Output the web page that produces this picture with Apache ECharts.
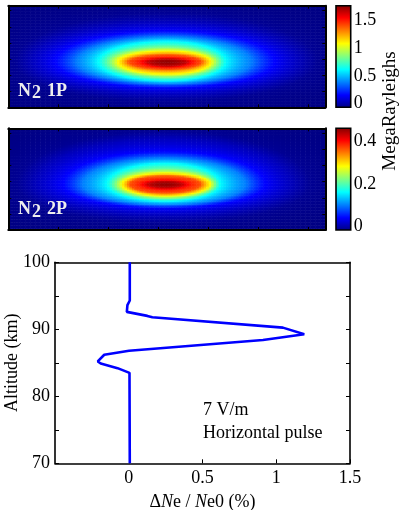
<!DOCTYPE html>
<html>
<head>
<meta charset="utf-8">
<script src="https://cdn.jsdelivr.net/npm/echarts@6/dist/echarts.min.js"></script>
<style>
html,body{margin:0;padding:0;background:#fff;}
#chart{width:403px;height:510px;}
</style>
</head>
<body>
<div id="chart"></div>
<script>
// ---------- DATA ----------
// Emission maps are described by their colour contours: for each contour level (MegaRayleighs)
// the half-extent of the contour to the right / left / up / down of the brightest point,
// in units of the 64 x 34 map grid. Centre = brightest point in map-grid units.
const n2_1p_centre = [32.1, 15.3];
const n2_1p_levels = [1.74, 1.65, 1.42, 1.11, 0.66, 0.44, 0.22, 0.106, 0.035];
const n2_1p_right  = [0, 4.0, 6.9, 8.9, 11.9, 17.0, 21.8, 26.5, 30.3];
const n2_1p_left   = [0, 4.0, 7.7, 9.9, 13.9, 18.2, 22.6, 27.3, 30.7];
const n2_1p_up     = [0, 1.0, 2.3, 3.7, 6.9, 8.4, 10.4, 13.4, 16.4];
const n2_1p_down   = [0, 1.5, 2.5, 4.2, 6.4, 7.4, 8.7, 11.0, 13.4];

const n2_2p_centre = [31.7, 15.4];
const n2_2p_levels = [0.455, 0.43, 0.37, 0.29, 0.174, 0.116, 0.058, 0.028, 0.009];
const n2_2p_right  = [0, 3.6, 7.1, 9.1, 11.1, 16.2, 20.2, 25.3, 29.3];
const n2_2p_left   = [0, 3.6, 7.1, 8.7, 11.7, 16.6, 20.6, 25.9, 29.9];
const n2_2p_up     = [0, 1.0, 2.7, 3.7, 7.0, 8.7, 11.0, 15.1, 17.7];
const n2_2p_down   = [0, 1.3, 3.0, 4.0, 5.7, 6.9, 8.0, 10.4, 13.0];

const map_cols = 64, map_rows = 34;

// colour bar ranges and ticks
const cb1_max = 1.772;
const cb1_ticks = [0, 0.5, 1, 1.5];
const cb2_max = 0.463;
const cb2_ticks = [0, 0.2, 0.4];

// Electron density change profile
const altitude_km = [70, 83.5, 84.2, 84.9, 85.2, 86.2, 86.8, 88.4, 89.25, 90.25, 91.8, 92.0, 92.6, 93.6, 94.3, 100];
const dNe_percent = [0.007, 0.005, -0.076, -0.19, -0.21, -0.166, 0.002, 0.91, 1.19, 1.045, 0.16, 0.126, -0.013, -0.009, 0.007, 0.007];
const xTickLabels = ['0', '0.5', '1', '1.5'];
const yTickLabels = ['70', '80', '90', '100'];

// ---------- LAYOUT ----------
const SERIF = '"Liberation Serif","Times New Roman",serif';
const HM = { left: 8.3, width: 317 };
const HM1 = { top: 5.7, height: 101.6 };
const HM2 = { top: 128.3, height: 101.7 };
const CB = { left: 336, width: 14.7 };
const LC = { left: 55, top: 262.3, width: 295, height: 201 };
const SUB = 2; // render sub-cells per map-grid cell

const jet = ['#000080','#0000ff','#0080ff','#00ffff','#80ff80','#ffff00','#ff8000','#ff0000','#800000'];

// Build the map table from the contour description (value between neighbouring contours).
function buildMap(c, L, R, Lf, U, D) {
  const out = [];
  const nx = map_cols * SUB, ny = map_rows * SUB, n = L.length;
  for (let j = 0; j < ny; j++) {
    for (let i = 0; i < nx; i++) {
      const x = (i + 0.5) / SUB, y = (j + 0.5) / SUB;
      const dx = x - c[0], dy = y - c[1];
      const A = dx >= 0 ? R : Lf, B = dy >= 0 ? U : D;
      const r = k => Math.sqrt((dx / A[k]) ** 2 + (dy / B[k]) ** 2);
      let v;
      const r1 = r(1);
      if (r1 <= 1) {
        v = L[0] - (L[0] - L[1]) * r1 * r1;
      } else {
        v = null;
        let rp = r1;
        for (let k = 2; k < n; k++) {
          const rk = r(k);
          if (rk <= 1) { const f = (rp - 1) / (rp - rk); v = L[k - 1] + f * (L[k] - L[k - 1]); break; }
          rp = rk;
        }
        if (v === null) v = L[n - 1] / Math.pow(rp, 4);
      }
      out.push([i, j, +v.toFixed(4)]);
    }
  }
  return out;
}
const idx = n => Array.from({length: n}, (_, k) => String(k));

function frameAxis(gridIndex, position, max, interval) {
  return {
    type: 'value', gridIndex, position, min: 0, max, interval, z: 10,
    axisLine: { show: true, onZero: false, lineStyle: { color: '#000', width: 2 } },
    axisTick: { show: true, inside: true, length: 3, lineStyle: { color: '#000', width: 1 } },
    axisLabel: { show: false }, splitLine: { show: false }
  };
}

const chart = echarts.init(document.getElementById('chart'), null, { renderer: 'canvas' });

const gb = { outerBoundsMode: 'none', containLabel: false };
const grids = [
  Object.assign({ left: HM.left, top: HM1.top, width: HM.width, height: HM1.height }, gb),      // 0 heat 1P
  Object.assign({ left: HM.left, top: HM1.top, width: HM.width, height: HM1.height }, gb),      // 1 frame 1P
  Object.assign({ left: HM.left, top: HM2.top, width: HM.width, height: HM2.height }, gb),      // 2 heat 2P
  Object.assign({ left: HM.left, top: HM2.top, width: HM.width, height: HM2.height }, gb),      // 3 frame 2P
  Object.assign({ left: CB.left, top: HM1.top, width: CB.width, height: 103.5 - HM1.top }, gb), // 4 colorbar 1 labels
  Object.assign({ left: CB.left, top: HM2.top, width: CB.width, height: 226 - HM2.top }, gb),   // 5 colorbar 2 labels
  Object.assign({ left: LC.left, top: LC.top, width: LC.width, height: LC.height }, gb)         // 6 line chart
];

const labelFont = { fontFamily: SERIF, fontSize: 18, color: '#000' };

const xAxes = [
  { type: 'category', gridIndex: 0, data: idx(map_cols * SUB), show: false },
  frameAxis(1, 'bottom', 6.34, 1),
  frameAxis(1, 'top', 6.34, 1),
  { type: 'category', gridIndex: 2, data: idx(map_cols * SUB), show: false },
  frameAxis(3, 'bottom', 6.34, 1),
  frameAxis(3, 'top', 6.34, 1),
  { type: 'value', gridIndex: 4, show: false, min: 0, max: 1 },
  { type: 'value', gridIndex: 5, show: false, min: 0, max: 1 },
  { type: 'value', gridIndex: 6, position: 'bottom', min: -0.5, max: 1.5, interval: 0.5,
    axisLine: { show: true, onZero: false, lineStyle: { color: '#000', width: 1.6 } },
    axisTick: { show: true, inside: true, length: 4, lineStyle: { color: '#000', width: 1 } },
    axisLabel: Object.assign({ margin: 6, showMinLabel: false,
      formatter: v => { const s = String(+v.toFixed(2)); return xTickLabels.includes(s) ? s : ''; } }, labelFont),
    splitLine: { show: false },
    name: '{d|Δ}{i|N}{d|e / }{i|N}{d|e0 (%)}', nameLocation: 'middle', nameGap: 30, nameMoveOverlap: false,
    nameTextStyle: { rich: { d: { fontFamily: SERIF, fontSize: 18, color: '#000' },
                             i: { fontFamily: SERIF, fontSize: 18, fontStyle: 'italic', color: '#000' } } } },
  { type: 'value', gridIndex: 6, position: 'top', min: -0.5, max: 1.5,
    axisLine: { show: true, onZero: false, lineStyle: { color: '#000', width: 1.6 } },
    axisTick: { show: false }, axisLabel: { show: false }, splitLine: { show: false } }
];

const yAxes = [
  { type: 'category', gridIndex: 0, data: idx(map_rows * SUB), show: false },
  frameAxis(1, 'left', 6.31, 1),
  frameAxis(1, 'right', 6.31, 1),
  { type: 'category', gridIndex: 2, data: idx(map_rows * SUB), show: false },
  frameAxis(3, 'left', 6.31, 1),
  frameAxis(3, 'right', 6.31, 1),
  { type: 'value', gridIndex: 4, position: 'right', min: 0, max: cb1_max, interval: 0.5,
    axisLine: { show: false }, axisTick: { show: false }, splitLine: { show: false },
    axisLabel: Object.assign({ margin: 3, showMaxLabel: false,
      formatter: v => cb1_ticks.includes(+v.toFixed(2)) ? String(+v.toFixed(2)) : '' }, labelFont) },
  { type: 'value', gridIndex: 5, position: 'right', min: 0, max: cb2_max, interval: 0.2,
    axisLine: { show: false }, axisTick: { show: false }, splitLine: { show: false },
    axisLabel: Object.assign({ margin: 3, showMaxLabel: false,
      formatter: v => cb2_ticks.includes(+v.toFixed(2)) ? String(+v.toFixed(2)) : '' }, labelFont) },
  { type: 'value', gridIndex: 6, position: 'left', min: 70, max: 100, interval: 5,
    axisLine: { show: true, onZero: false, lineStyle: { color: '#000', width: 1.6 } },
    axisTick: { show: true, inside: true, length: 4, lineStyle: { color: '#000', width: 1 } },
    axisLabel: Object.assign({ margin: 5,
      formatter: v => yTickLabels.includes(String(v)) ? String(v) : '' }, labelFont),
    splitLine: { show: false },
    name: 'Altitude (km)', nameLocation: 'middle', nameGap: 34, nameRotate: 90, nameMoveOverlap: false,
    nameTextStyle: { fontFamily: SERIF, fontSize: 18, color: '#000' } },
  { type: 'value', gridIndex: 6, position: 'right', min: 70, max: 100, interval: 5,
    axisLine: { show: true, onZero: false, lineStyle: { color: '#000', width: 1.6 } },
    axisTick: { show: true, inside: true, length: 4, lineStyle: { color: '#000', width: 1 } },
    axisLabel: { show: false }, splitLine: { show: false } }
];

function cbGradient() {
  return new echarts.graphic.LinearGradient(0, 1, 0, 0,
    jet.map((c, k) => ({ offset: k / (jet.length - 1), color: c })));
}
function txt(text, x, y, opts) {
  return { type: 'text', x, y, z: 50, silent: true,
    style: Object.assign({ text, fontFamily: SERIF, fontSize: 18, fill: '#000', align: 'left', verticalAlign: 'middle' }, opts || {}) };
}
const lblStyle = { fill: '#eeeeee', fontWeight: 'bold', fontSize: 18 };

const option = {
  backgroundColor: '#fff',
  animation: false,
  grid: grids,
  xAxis: xAxes,
  yAxis: yAxes,
  visualMap: [
    { type: 'continuous', show: false, seriesIndex: 0, dimension: 2, min: 0, max: cb1_max, inRange: { color: jet } },
    { type: 'continuous', show: false, seriesIndex: 1, dimension: 2, min: 0, max: cb2_max, inRange: { color: jet } }
  ],
  series: [
    { type: 'heatmap', xAxisIndex: 0, yAxisIndex: 0,
      data: buildMap(n2_1p_centre, n2_1p_levels, n2_1p_right, n2_1p_left, n2_1p_up, n2_1p_down),
      progressive: 0, emphasis: { disabled: true }, itemStyle: { borderWidth: 0 } },
    { type: 'heatmap', xAxisIndex: 3, yAxisIndex: 3,
      data: buildMap(n2_2p_centre, n2_2p_levels, n2_2p_right, n2_2p_left, n2_2p_up, n2_2p_down),
      progressive: 0, emphasis: { disabled: true }, itemStyle: { borderWidth: 0 } },
    { type: 'line', xAxisIndex: 8, yAxisIndex: 8, data: altitude_km.map((a, k) => [dNe_percent[k], a]),
      showSymbol: false, symbol: 'none', lineStyle: { color: '#0000ff', width: 2.6 }, z: 5 }
  ],
  graphic: [
    { type: 'rect', z: 40, silent: true, shape: { x: CB.left, y: HM1.top, width: CB.width, height: HM1.height },
      style: { fill: cbGradient(), stroke: '#000', lineWidth: 1.6 } },
    { type: 'rect', z: 40, silent: true, shape: { x: CB.left, y: HM2.top, width: CB.width, height: HM2.height },
      style: { fill: cbGradient(), stroke: '#000', lineWidth: 1.6 } },
    Object.assign(txt('MegaRayleighs', 390, 111, { align: 'center', fontSize: 19 }), { rotation: Math.PI / 2 }),
    txt('N', 18, 91, lblStyle), txt('2', 32, 93.5, lblStyle), txt('1P', 47, 91, lblStyle),
    txt('N', 18, 209.5, lblStyle), txt('2', 32, 212, lblStyle), txt('2P', 47, 209.5, lblStyle),
    txt('7 V/m', 203, 410),
    txt('Horizontal pulse', 203, 433)
  ]
};
chart.setOption(option);
</script>
</body>
</html>
